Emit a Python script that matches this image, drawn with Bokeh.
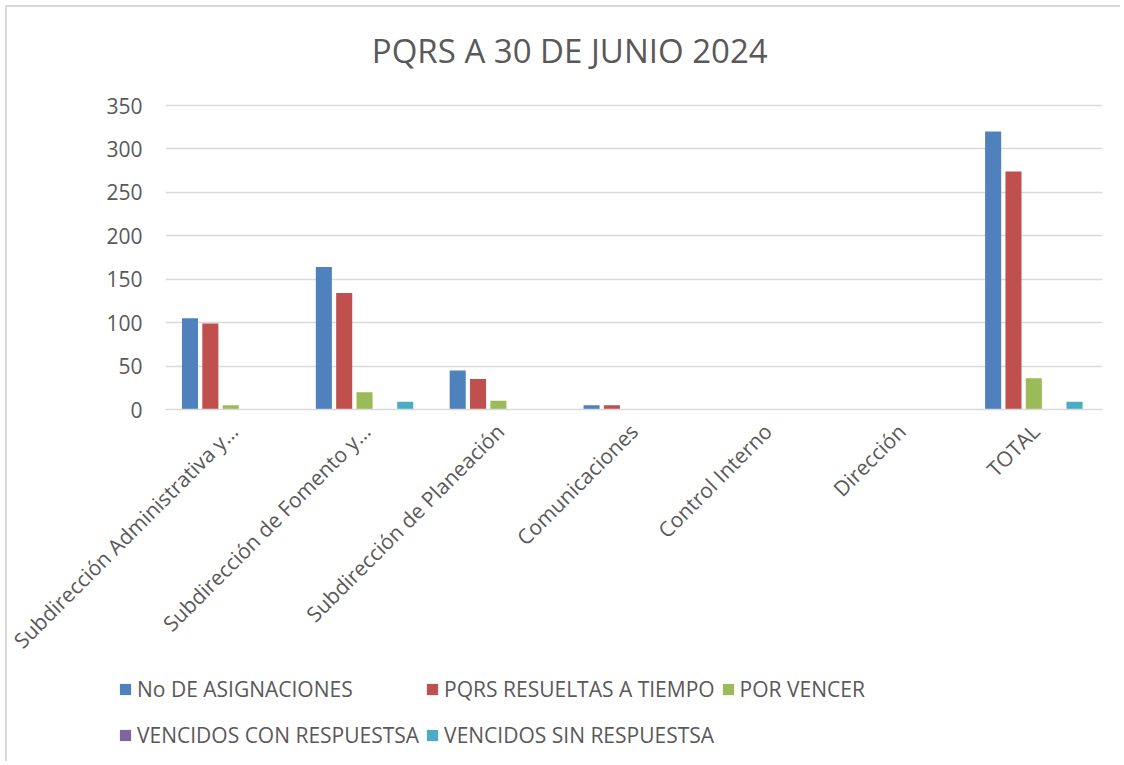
import math
from bokeh.plotting import figure
from bokeh.models import (ColumnDataSource, FactorRange, Legend, LegendItem, FixedTicker,
                          Range1d, Label)
from bokeh.transform import dodge
from bokeh.embed import file_html
from bokeh.resources import INLINE

categories = ["Subdirección Administrativa y…", "Subdirección de Fomento y…",
              "Subdirección de Planeación", "Comunicaciones", "Control Interno",
              "Dirección", "TOTAL"]
asignaciones = [105, 164, 45, 5, 0, 0, 320]
resueltas = [99, 134, 35, 5, 0, 0, 274]
por_vencer = [5, 20, 10, 0, 0, 0, 36]
vencidos_con = [0, 0, 0, 0, 0, 0, 0]
vencidos_sin = [0, 9, 0, 0, 0, 0, 9]
y_ticks = [0, 50, 100, 150, 200, 250, 300, 350]

series_names = ["No DE ASIGNACIONES", "PQRS RESUELTAS A TIEMPO", "POR VENCER",
                "VENCIDOS CON RESPUESTSA", "VENCIDOS SIN RESPUESTSA"]
series_keys = ["a", "r", "p", "vc", "vs"]
colors = ["#4F81BD", "#C0504D", "#9BBB59", "#8064A2", "#4BACC6"]
title_text = "PQRS A 30 DE JUNIO 2024"

source = ColumnDataSource(dict(cat=categories, a=asignaciones, r=resueltas,
                               p=por_vencer, vc=vencidos_con, vs=vencidos_sin))

FONT = "Open Sans"
TXT = "#595959"
GRID = "#d9d9d9"
W = 1115

# value axis 0..350 occupies 304 px; the frame extends upward to hold the title
AXIS_MAX = 350
AXIS_PX = 304
FRAME_PX = 389
y_end = AXIS_MAX * FRAME_PX / AXIS_PX

p = figure(x_range=FactorRange(factors=categories, range_padding=0),
           y_range=Range1d(0, y_end),
           width=W, height=660, output_backend="svg", toolbar_location=None,
           min_border_left=158, min_border_right=20, min_border_top=13,
           min_border_bottom=258)
p.styles = {"margin-left": "5px", "margin-top": "5px",
            "border-left": "2px solid #d9d9d9", "border-top": "2px solid #d9d9d9"}
p.outline_line_color = None
p.background_fill_color = "white"
p.border_fill_color = "white"

offsets = [-0.317, -0.165, -0.013, 0.139, 0.291]
renderers = []
for key, off, col in zip(series_keys, offsets, colors):
    r = p.vbar(x=dodge("cat", off, range=p.x_range), top=key, width=0.12,
               source=source, fill_color=col, line_color=None)
    renderers.append(r)

p.add_layout(Label(x=3.02, y=AXIS_MAX * (359 / AXIS_PX), text=title_text,
                   text_font=FONT, text_font_size="33px", text_color=TXT,
                   text_align="center", text_baseline="middle"))

p.xgrid.grid_line_color = None
p.ygrid.grid_line_color = GRID
p.ygrid.grid_line_width = 1.5

p.yaxis.ticker = FixedTicker(ticks=y_ticks)
p.yaxis.axis_line_color = None
p.yaxis.major_tick_line_color = None
p.yaxis.minor_tick_line_color = None
p.yaxis.major_label_text_font = FONT
p.yaxis.major_label_text_font_size = "21px"
p.yaxis.major_label_text_color = TXT
p.yaxis.major_label_standoff = 17

p.xaxis.axis_line_color = GRID
p.xaxis.axis_line_width = 1.5
p.xaxis.major_tick_line_color = None
p.xaxis.minor_tick_line_color = None
p.xaxis.major_label_orientation = math.pi / 4
p.xaxis.major_label_text_font = FONT
p.xaxis.major_label_text_font_size = "21px"
p.xaxis.major_label_text_color = TXT
p.xaxis.major_label_standoff = 12

# legend panel: a separate root below the chart, with the same series colours
lg = figure(width=W, height=96, output_backend="svg", toolbar_location=None,
            min_border=0, x_range=Range1d(0, 1), y_range=Range1d(0, 1))
lg.styles = {"margin-left": "5px", "border-left": "2px solid #d9d9d9"}
lg.axis.visible = False
lg.grid.visible = False
lg.outline_line_color = None
lg.background_fill_color = "white"
lg.border_fill_color = "white"
legend_renderers = [lg.vbar(x=[0], top=[0], width=0.0, fill_color=c, line_color=None)
                    for c in colors]
items = [LegendItem(label=n, renderers=[r]) for n, r in zip(series_names, legend_renderers)]
legend = Legend(items=items, location=(111, 6), orientation="horizontal", ncols=3,
                label_text_font=FONT, label_text_font_size="21px", label_text_color=TXT,
                glyph_width=14, glyph_height=14, label_standoff=5, spacing=6,
                label_height=40, padding=0, margin=0, border_line_color=None,
                background_fill_alpha=0)
lg.add_layout(legend)

open("out.html", "w").write(file_html([p, lg], INLINE))
